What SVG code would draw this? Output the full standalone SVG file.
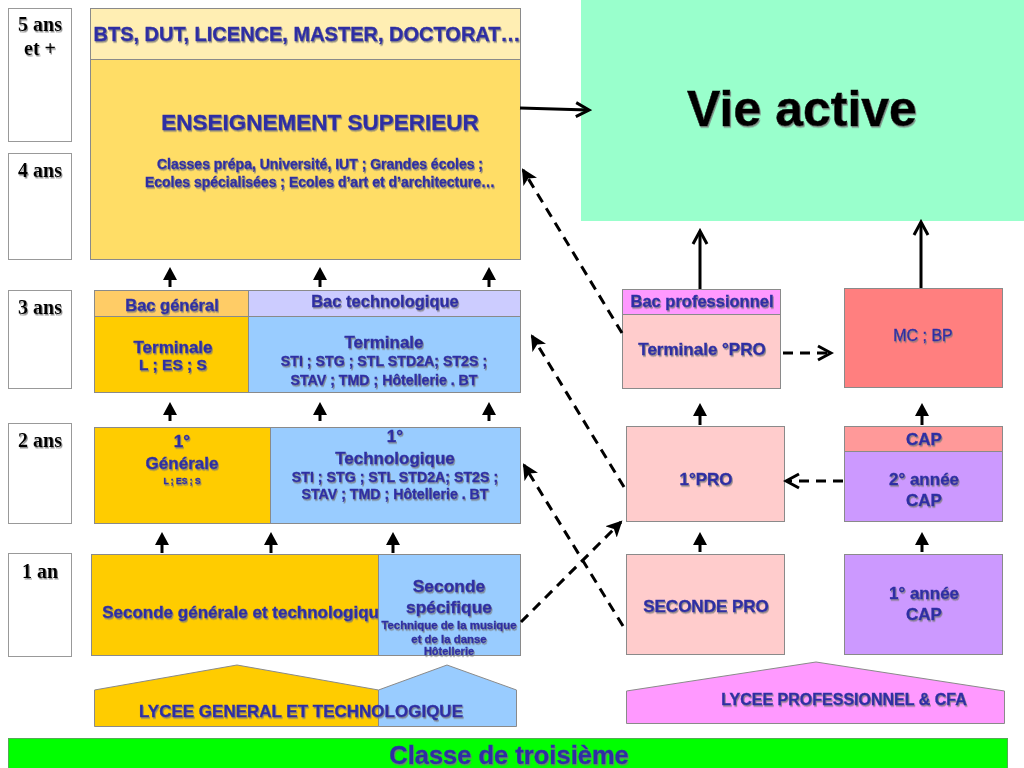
<svg xmlns="http://www.w3.org/2000/svg" width="1024" height="768" viewBox="0 0 1024 768">
<defs>
<filter id="sh" x="-5%" y="-20%" width="110%" height="150%"><feDropShadow dx="1" dy="1.5" stdDeviation="0.6" flood-color="#777" flood-opacity="0.8"/></filter>
<marker id="tri" markerUnits="userSpaceOnUse" markerWidth="14" markerHeight="14" refX="1" refY="7" orient="auto"><path d="M0,0 L13,7 L0,14 z" fill="#000"/></marker>
<marker id="vee" markerUnits="userSpaceOnUse" markerWidth="18" markerHeight="18" refX="14" refY="9" orient="auto"><path d="M2,2 L15,9 L2,16" fill="none" stroke="#000" stroke-width="3"/></marker>
<marker id="dart" markerUnits="userSpaceOnUse" markerWidth="18" markerHeight="16" refX="14" refY="8" orient="auto"><path d="M0,0 L16,8 L0,16 L4,8 z" fill="#000"/></marker>
</defs>
<style>
.box{stroke:#8a8a8a;stroke-width:1}
.yr{fill:#fff;stroke:#999;stroke-width:1}
.yt{font-family:"Liberation Serif",serif;font-weight:bold;font-size:20px;fill:#000;text-anchor:middle;filter:url(#sh)}
.t{font-family:"Liberation Sans",Arial,sans-serif;font-weight:bold;fill:#2F2FA3;stroke:#2F2FA3;stroke-width:0.35;text-anchor:middle;filter:url(#sh)}
.s{stroke:#000;stroke-width:3;fill:none}
.d{stroke:#000;stroke-width:3;fill:none;stroke-dasharray:10 7}
</style>

<g id="years">
<g id="y5"><rect class="yr" x="8.5" y="8.5" width="63" height="133"/><text class="yt" x="40" y="31">5 ans</text><text class="yt" x="40" y="55">et +</text></g>
<g id="y4"><rect class="yr" x="8.5" y="153.5" width="63" height="106"/><text class="yt" x="40" y="177">4 ans</text></g>
<g id="y3"><rect class="yr" x="8.5" y="290.5" width="63" height="98"/><text class="yt" x="40" y="314">3 ans</text></g>
<g id="y2"><rect class="yr" x="8.5" y="423.5" width="63" height="100"/><text class="yt" x="40" y="447">2 ans</text></g>
<g id="y1"><rect class="yr" x="8.5" y="553.5" width="63" height="103"/><text class="yt" x="40" y="578">1 an</text></g>
</g>

<g id="vie-active">
<rect x="581" y="0" width="443" height="221" fill="#99FFCC"/>
<text x="802" y="126" font-family="Liberation Sans,Arial,sans-serif" font-weight="bold" font-size="50" fill="#000" stroke="#000" stroke-width="0.5" text-anchor="middle" filter="url(#sh)">Vie active</text>
</g>

<g id="enseignement-superieur">
<rect class="box" x="90.5" y="8.5" width="430" height="51" fill="#FFEEB3"/>
<rect class="box" x="90.5" y="59.5" width="430" height="200" fill="#FFDD66"/>
<text class="t" x="307" y="41" font-size="20">BTS, DUT, LICENCE, MASTER, DOCTORAT…</text>
<text class="t" x="320" y="130" font-size="22.5">ENSEIGNEMENT SUPERIEUR</text>
<text class="t" x="320" y="169" font-size="14">Classes prépa, Université, IUT ; Grandes écoles ;</text>
<text class="t" x="320" y="187" font-size="14">Ecoles spécialisées ; Ecoles d’art et d’architecture…</text>
</g>

<g id="terminale-generale">
<rect class="box" x="94.5" y="290.5" width="154" height="26" fill="#FFCC66"/>
<rect class="box" x="94.5" y="316.5" width="154" height="76" fill="#FFCC00"/>
<text class="t" x="172" y="311" font-size="16.5">Bac général</text>
<text class="t" x="173" y="353" font-size="17">Terminale</text>
<text class="t" x="173" y="370" font-size="15.5">L ; ES ; S</text>
</g>

<g id="terminale-techno">
<rect class="box" x="248.5" y="290.5" width="272" height="26" fill="#CCCCFF"/>
<rect class="box" x="248.5" y="316.5" width="272" height="76" fill="#99CCFF"/>
<text class="t" x="385" y="307" font-size="16.5">Bac technologique</text>
<text class="t" x="384" y="348" font-size="17">Terminale</text>
<text class="t" x="384" y="366" font-size="14.2">STI ; STG ; STL STD2A; ST2S ;</text>
<text class="t" x="384" y="385" font-size="14.2">STAV ; TMD ; Hôtellerie . BT</text>
</g>

<g id="premiere-generale">
<rect class="box" x="94.5" y="427.5" width="176" height="96" fill="#FFCC00"/>
<text class="t" x="182" y="447" font-size="17">1°</text>
<text class="t" x="182" y="469" font-size="17">Générale</text>
<text class="t" x="182" y="484" font-size="8.5">L ; ES ; S</text>
</g>

<g id="premiere-techno">
<rect class="box" x="270.5" y="427.5" width="250" height="96" fill="#99CCFF"/>
<text class="t" x="395" y="442" font-size="17">1°</text>
<text class="t" x="395" y="464" font-size="17">Technologique</text>
<text class="t" x="395" y="482" font-size="14.2">STI ; STG ; STL STD2A; ST2S ;</text>
<text class="t" x="395" y="499" font-size="14.2">STAV ; TMD ; Hôtellerie . BT</text>
</g>

<g id="seconde-gt">
<rect class="box" x="91.5" y="554.5" width="287" height="101" fill="#FFCC00"/>
<text class="t" x="379" y="618" font-size="17" style="text-anchor:end">Seconde générale et technologiqu</text>
</g>

<g id="seconde-specifique">
<rect class="box" x="378.5" y="554.5" width="142" height="101" fill="#99CCFF"/>
<text class="t" x="449" y="592" font-size="17.4">Seconde</text>
<text class="t" x="449" y="613" font-size="17.4">spécifique</text>
<text class="t" x="449" y="629" font-size="11.4">Technique de la musique</text>
<text class="t" x="449" y="643" font-size="11.4">et de la danse</text>
<text class="t" x="449" y="655" font-size="11">Hôtellerie</text>
</g>

<g id="lycee-gt">
<polygon class="box" points="94.5,690 237,665 378.5,690 378.5,726.5 94.5,726.5" fill="#FFCC00"/>
<polygon class="box" points="378.5,690 447,665 516.5,690 516.5,726.5 378.5,726.5" fill="#99CCFF"/>
<text class="t" x="301" y="717" font-size="17">LYCEE GENERAL ET TECHNOLOGIQUE</text>
</g>

<g id="terminale-pro">
<rect class="box" x="622.5" y="289.5" width="158" height="25" fill="#FF99FF"/>
<rect class="box" x="622.5" y="314.5" width="158" height="74" fill="#FFCCCC"/>
<text class="t" x="702" y="307" font-size="16.5">Bac professionnel</text>
<text class="t" x="702" y="355" font-size="17">Terminale °PRO</text>
</g>

<g id="mc-bp">
<rect class="box" x="844.5" y="288.5" width="158" height="99" fill="#FF7F7F"/>
<text class="t" x="923" y="341" font-size="16" style="font-weight:normal">MC ; BP</text>
</g>

<g id="premiere-pro">
<rect class="box" x="626.5" y="426.5" width="158" height="95" fill="#FFCCCC"/>
<text class="t" x="706" y="485" font-size="17">1°PRO</text>
</g>

<g id="cap2">
<rect class="box" x="844.5" y="426.5" width="158" height="25" fill="#FF9999"/>
<rect class="box" x="844.5" y="451.5" width="158" height="70" fill="#CC99FF"/>
<text class="t" x="924" y="445" font-size="17">CAP</text>
<text class="t" x="924" y="485" font-size="17">2° année</text>
<text class="t" x="924" y="506" font-size="17">CAP</text>
</g>

<g id="seconde-pro">
<rect class="box" x="626.5" y="554.5" width="158" height="100" fill="#FFCCCC"/>
<text class="t" x="706" y="612" font-size="17">SECONDE PRO</text>
</g>

<g id="cap1">
<rect class="box" x="844.5" y="554.5" width="158" height="100" fill="#CC99FF"/>
<text class="t" x="924" y="599" font-size="17">1° année</text>
<text class="t" x="924" y="620" font-size="17">CAP</text>
</g>

<g id="lycee-pro">
<polygon class="box" points="626.5,691 816,662 1004.5,691 1004.5,723.5 626.5,723.5" fill="#FF99FF"/>
<text class="t" x="844" y="705" font-size="16">LYCEE  PROFESSIONNEL &amp; CFA</text>
</g>

<g id="classe-troisieme">
<rect x="8.5" y="738.5" width="999" height="30" fill="#00FF00" stroke="#5a5" stroke-width="1"/>
<text class="t" x="509" y="764" font-size="25.5">Classe de troisième</text>
</g>

<g id="connectors">
<line class="s" x1="520" y1="108" x2="588" y2="110" marker-end="url(#vee)"/>
<line class="s" x1="700" y1="289" x2="700" y2="232" marker-end="url(#vee)"/>
<line class="s" x1="921" y1="288" x2="921" y2="223" marker-end="url(#vee)"/>

<line class="s" x1="170" y1="287" x2="170" y2="279" marker-end="url(#tri)"/>
<line class="s" x1="320" y1="287" x2="320" y2="279" marker-end="url(#tri)"/>
<line class="s" x1="489" y1="287" x2="489" y2="279" marker-end="url(#tri)"/>

<line class="s" x1="170" y1="421" x2="170" y2="414" marker-end="url(#tri)"/>
<line class="s" x1="320" y1="421" x2="320" y2="414" marker-end="url(#tri)"/>
<line class="s" x1="489" y1="421" x2="489" y2="414" marker-end="url(#tri)"/>

<line class="s" x1="162" y1="553" x2="162" y2="544" marker-end="url(#tri)"/>
<line class="s" x1="271" y1="553" x2="271" y2="544" marker-end="url(#tri)"/>
<line class="s" x1="393" y1="553" x2="393" y2="544" marker-end="url(#tri)"/>

<line class="s" x1="700" y1="425" x2="700" y2="415" marker-end="url(#tri)"/>
<line class="s" x1="922" y1="425" x2="922" y2="415" marker-end="url(#tri)"/>
<line class="s" x1="700" y1="552" x2="700" y2="544" marker-end="url(#tri)"/>
<line class="s" x1="922" y1="552" x2="922" y2="544" marker-end="url(#tri)"/>

<line class="d" x1="843" y1="481" x2="787" y2="481" marker-end="url(#vee)"/>
<line class="d" x1="783" y1="353" x2="830" y2="353" marker-end="url(#vee)"/>
<line class="d" x1="622" y1="333" x2="523" y2="170" marker-end="url(#dart)"/>
<line class="d" x1="624" y1="487" x2="532" y2="336" marker-end="url(#dart)"/>
<line class="d" x1="623" y1="626" x2="524" y2="465" marker-end="url(#dart)"/>
<line class="d" x1="521" y1="622" x2="621" y2="522" marker-end="url(#dart)"/>
</g>
</svg>
